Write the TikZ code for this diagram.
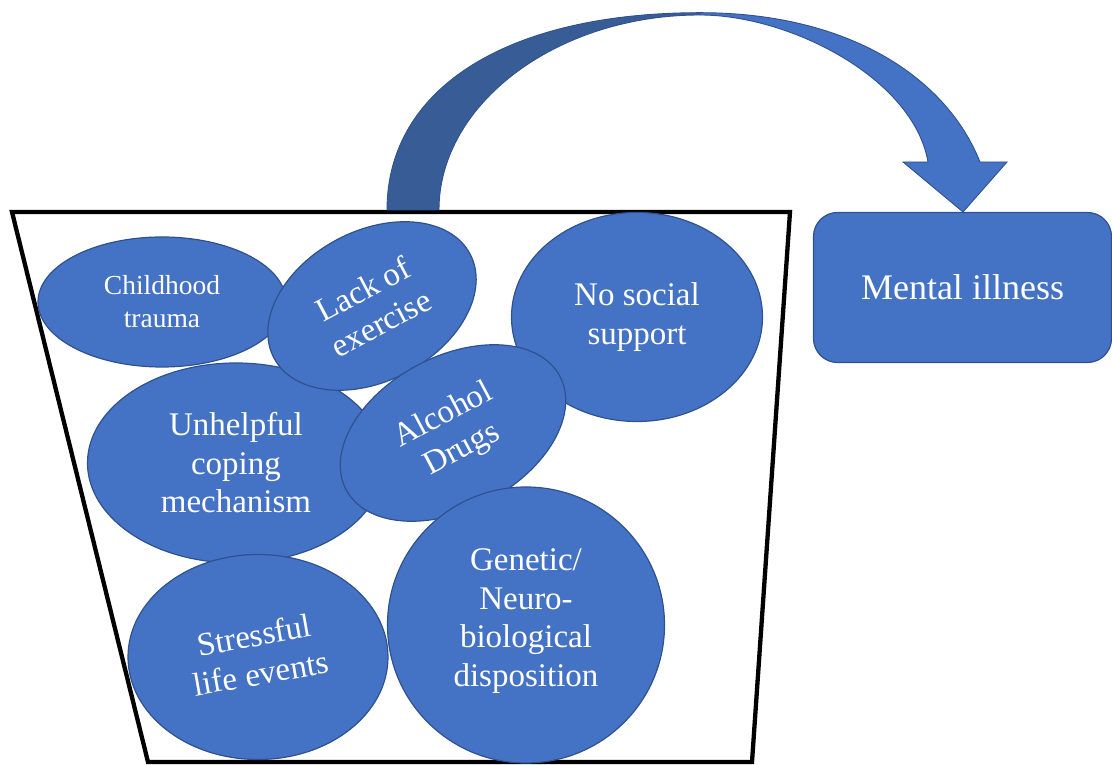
\documentclass[tikz,border=0pt]{standalone}
\usepackage{fontspec}
\setmainfont{Liberation Serif}
\usetikzlibrary{shapes.geometric}
\definecolor{blueFill}{HTML}{4472C4}
\definecolor{blueEdge}{HTML}{2F528F}
\definecolor{blueDark}{HTML}{385D96}
\begin{document}
\begin{tikzpicture}[x=1pt,y=1pt,
  blob/.style={ellipse, fill=blueFill, draw=blueEdge, line width=1.2pt, inner sep=0pt,
    text=white, align=center, font=\fontsize{33}{38.5}\selectfont},
  smallblob/.style={blob, font=\fontsize{27.5}{33}\selectfont},
  blobtext/.style={text=white, align=center, font=\fontsize{33}{38.5}\selectfont},
  outcome/.style={rectangle, rounded corners=24pt, fill=blueFill, draw=blueEdge, line width=1.2pt,
    text=white, align=center, font=\fontsize{36}{42}\selectfont, inner sep=0pt},
  bucketline/.style={draw=black, line width=4.3pt, line join=miter},
  arrowpart/.style={draw=blueEdge, line width=0.9pt, line join=miter}]
\useasboundingbox (0,0) rectangle (1112,765);

% bucket
\draw[bucketline] (12,553) -- (790,553) -- (752,3) -- (148,3) -- cycle;

% curved arrow
\coordinate (baseL) at (387,555);
\coordinate (baseR) at (439,555);
\coordinate (topO) at (700,752.3);
\coordinate (topI) at (700,750);
\coordinate (headO) at (980,603);
\coordinate (headI) at (928,603);
\coordinate (wingR) at (1007,603);
\coordinate (wingL) at (903,603);
\coordinate (tip) at (963,553);
\filldraw[arrowpart, fill=blueDark] (baseL) .. controls (387,676) and (506,752.3) .. (topO)
  -- (topI) .. controls (556.5,750) and (439,661) .. (baseR) -- cycle;
\filldraw[arrowpart, fill=blueFill] (topO) .. controls (850,752.3) and (946.7,686.7) .. (headO)
  -- (wingR) -- (tip) -- (wingL) -- (headI)
  .. controls (913.5,686.7) and (790,750) .. (topI) -- cycle;

% outcome box
\node[outcome, minimum width=298pt, minimum height=150pt] (mental) at (962.5,477.5) {Mental illness};

% factors
\node[smallblob, minimum width=248pt, minimum height=130pt] (child) at (162,463) {Childhood\\trauma};
\node[blob, minimum width=297pt, minimum height=200pt] (coping) at (236,302) {Unhelpful\\coping\\mechanism};
\node[blob, minimum width=222pt, minimum height=150pt, rotate=28] (exercise) at (372,459) {Lack of\\exercise};
\node[blob, minimum width=251pt, minimum height=209pt] (social) at (637,448) {No social\\support};
\node[blob, minimum width=242pt, minimum height=153pt, rotate=28] (alcohol) at (453,332) {Alcohol\\Drugs};
\node[blob, minimum width=260pt, minimum height=205pt,
  label={[blobtext, rotate=10, yshift=3pt]center:Stressful\\life events}] (stress) at (258,108) {};
\node[blob, minimum width=277pt, minimum height=276pt,
  label={[blobtext, yshift=4pt]center:Genetic/\\Neuro-\\biological\\disposition}] (genetic) at (526,140) {};
\end{tikzpicture}
\end{document}
